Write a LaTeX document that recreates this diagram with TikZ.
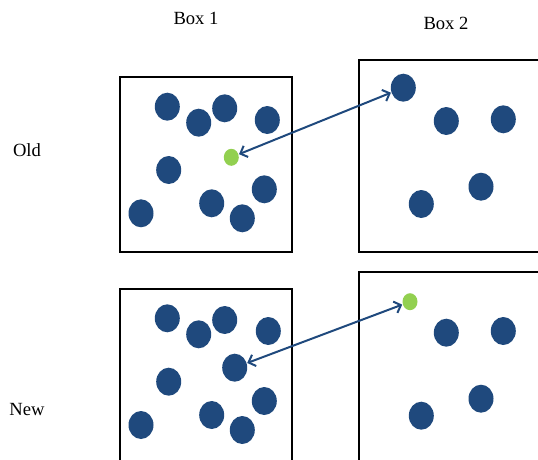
\documentclass[tikz,border=0pt]{standalone}
\usepackage{fontspec}
\setmainfont{Liberation Serif}
\usetikzlibrary{shapes.geometric,arrows.meta}
\definecolor{dotblue}{HTML}{1F497D}
\definecolor{dotgreen}{HTML}{92D050}
\tikzset{
  dot/.style={ellipse,fill=dotblue,draw=none,inner sep=0pt,minimum width=25pt,minimum height=28pt},
  gdot/.style={ellipse,fill=dotgreen,draw=none,inner sep=0pt,minimum width=15pt,minimum height=17pt},
  frame/.style={draw=black,line width=2pt},
  lbl/.style={font=\fontsize{18.6}{22}\selectfont,inner sep=0pt,anchor=base},
  link/.style={draw=dotblue,line width=2pt,{Straight Barb[length=6pt,width=12pt]}-{Straight Barb[length=6pt,width=12pt]},shorten <=0.5pt,shorten >=0.5pt}
}
\begin{document}
\begin{tikzpicture}[x=1pt,y=-1pt]
\useasboundingbox (0,0) rectangle (538,460);
\clip (0,0) rectangle (538,460);
% labels
\node[lbl] (box1) at (196,25) {Box 1};
\node[lbl] (box2) at (446,29.3) {Box 2};
\node[lbl] (old) at (27,156.7) {Old};
\node[lbl] (new) at (27,415) {New};
% frames
\draw[frame] (120,77) rectangle (292,252);
\draw[frame] (359,60) rectangle (560,252);
\draw[frame] (120,289) rectangle (292,480);
\draw[frame] (359,272) rectangle (560,480);
% old box 1
\node[dot] (o1) at (167.3,106.7) {};
\node[dot] (o2) at (198.7,122.7) {};
\node[dot] (o3) at (224.7,108.3) {};
\node[dot] (o4) at (267.3,120) {};
\node[dot] (o5) at (168.7,170) {};
\node[gdot] (og) at (231.3,157.3) {};
\node[dot] (o7) at (264.3,189.3) {};
\node[dot] (o8) at (141,213.3) {};
\node[dot] (o9) at (211.7,203.3) {};
\node[dot] (o10) at (242.3,218.3) {};
% old box 2
\node[dot] (pa) at (403.3,87.7) {};
\node[dot] (pb) at (446.3,121) {};
\node[dot] (pc) at (503.3,119.3) {};
\node[dot] (pd) at (481,186.7) {};
\node[dot] (pe) at (421.3,204) {};
% new box 1
\node[dot] (n1) at (167.3,318.3) {};
\node[dot] (n2) at (198.7,334.3) {};
\node[dot] (n3) at (224.7,320) {};
\node[dot] (n4) at (268.3,331) {};
\node[dot] (n5) at (168.7,381.7) {};
\node[dot] (n6) at (234.7,367.7) {};
\node[dot] (n7) at (264.3,401) {};
\node[dot] (n8) at (141,425) {};
\node[dot] (n9) at (211.7,415) {};
\node[dot] (n10) at (242.3,430) {};
% new box 2
\node[gdot] (qg) at (410,301.7) {};
\node[dot] (qb) at (446.3,332.7) {};
\node[dot] (qc) at (503.3,331) {};
\node[dot] (qd) at (481,398.7) {};
\node[dot] (qe) at (421.3,415.7) {};
% arrows
\draw[link] (og) -- (pa);
\draw[link] (n6) -- (qg);
\end{tikzpicture}
\end{document}
